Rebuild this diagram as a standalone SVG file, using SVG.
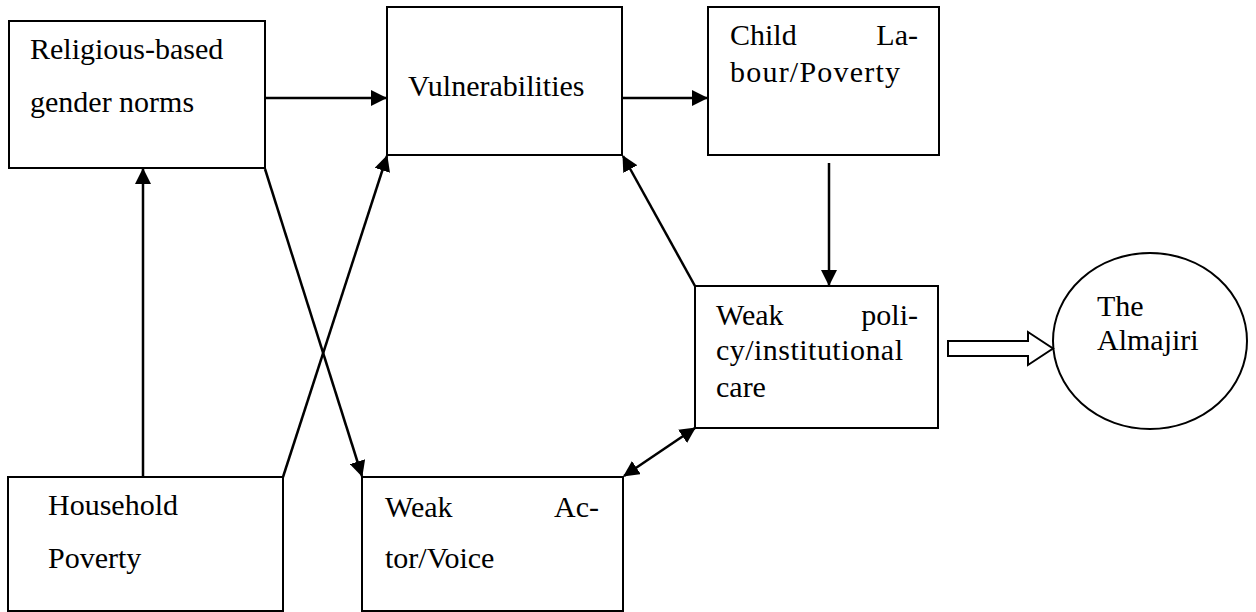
<svg xmlns="http://www.w3.org/2000/svg" width="1256" height="612" viewBox="0 0 1256 612">
<style>
.box{fill:#fff;stroke:#000;stroke-width:2}
.t{font-family:"Liberation Serif","Times New Roman",serif;font-size:30px;fill:#000}
.c{stroke:#000;stroke-width:2.5;fill:none}
</style>
<defs>
<marker id="ah" viewBox="0 0 16 16" refX="15" refY="8" markerWidth="16" markerHeight="16" markerUnits="userSpaceOnUse" orient="auto-start-reverse">
<path d="M0,0 L16,8 L0,16 Z" fill="#000"/>
</marker>
</defs>
<rect width="1256" height="612" fill="#fff"/>
<g id="n-religious">
<rect class="box" x="9" y="21" width="256" height="147"/>
<text class="t" x="30" y="59">Religious-based</text>
<text class="t" x="30" y="112">gender norms</text>
</g>
<g id="n-vulnerabilities">
<rect class="box" x="387" y="7" width="235" height="148"/>
<text class="t" x="408" y="96">Vulnerabilities</text>
</g>
<g id="n-childlabour">
<rect class="box" x="708" y="7" width="231" height="148"/>
<text class="t" x="730" y="45">Child</text>
<text class="t" x="918" y="45" text-anchor="end">La-</text>
<text class="t" x="730" y="82" textLength="170">bour/Poverty</text>
</g>
<g id="n-weakpolicy">
<rect class="box" x="695" y="286" width="243" height="142"/>
<text class="t" x="716" y="325">Weak</text>
<text class="t" x="918" y="325" text-anchor="end">poli-</text>
<text class="t" x="716" y="360" textLength="187">cy/institutional</text>
<text class="t" x="716" y="397">care</text>
</g>
<g id="n-almajiri">
<ellipse class="box" cx="1150" cy="341" rx="97" ry="88"/>
<text class="t" x="1097" y="316">The</text>
<text class="t" x="1097" y="350">Almajiri</text>
</g>
<g id="n-household">
<rect class="box" x="8" y="477" width="275" height="134"/>
<text class="t" x="48" y="515">Household</text>
<text class="t" x="48" y="568">Poverty</text>
</g>
<g id="n-weakactor">
<rect class="box" x="362" y="477" width="261" height="134"/>
<text class="t" x="385" y="517">Weak</text>
<text class="t" x="599" y="517" text-anchor="end">Ac-</text>
<text class="t" x="385" y="568">tor/Voice</text>
</g>
<g id="connectors">
<line class="c" x1="265" y1="98" x2="386" y2="98" marker-end="url(#ah)"/>
<line class="c" x1="622" y1="98" x2="707" y2="98" marker-end="url(#ah)"/>
<line class="c" x1="829" y1="163" x2="829" y2="285" marker-end="url(#ah)"/>
<line class="c" x1="143" y1="477" x2="143" y2="169" marker-end="url(#ah)"/>
<line class="c" x1="283" y1="477" x2="387" y2="156" marker-end="url(#ah)"/>
<line class="c" x1="265" y1="169" x2="362" y2="476" marker-end="url(#ah)"/>
<line class="c" x1="695" y1="286" x2="623" y2="156" marker-end="url(#ah)"/>
<line class="c" x1="695" y1="428" x2="624" y2="476" marker-start="url(#ah)" marker-end="url(#ah)"/>
<path class="box" d="M948,341 L1028,341 L1028,332 L1053,348.5 L1028,365 L1028,356 L948,356 Z"/>
</g>
</svg>
